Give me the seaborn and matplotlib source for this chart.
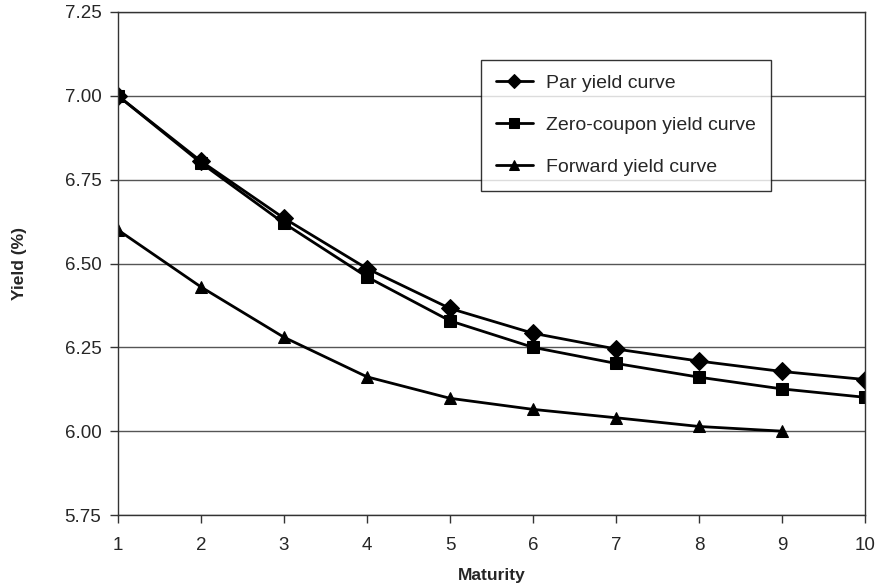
import matplotlib
matplotlib.use("Agg")
import matplotlib.pyplot as plt
import seaborn as sns
import pandas as pd

maturity = [1, 2, 3, 4, 5, 6, 7, 8, 9, 10]
par_yield = [7.00, 6.805, 6.635, 6.485, 6.366, 6.292, 6.245, 6.209, 6.178, 6.154]
zero_yield = [7.00, 6.80, 6.62, 6.46, 6.329, 6.25, 6.202, 6.161, 6.126, 6.101]
fwd_maturity = [1, 2, 3, 4, 5, 6, 7, 8, 9]
fwd_yield = [6.60, 6.43, 6.28, 6.162, 6.098, 6.065, 6.04, 6.014, 6.00]
series_names = ["Par yield curve", "Zero-coupon yield curve", "Forward yield curve"]
y_ticks = [5.75, 6.00, 6.25, 6.50, 6.75, 7.00, 7.25]

sns.set_theme(style="white")
plt.rcParams['font.family'] = ['Liberation Sans', 'DejaVu Sans']

df = pd.concat([
    pd.DataFrame({"Maturity": maturity, "Yield": par_yield, "Curve": series_names[0]}),
    pd.DataFrame({"Maturity": maturity, "Yield": zero_yield, "Curve": series_names[1]}),
    pd.DataFrame({"Maturity": fwd_maturity, "Yield": fwd_yield, "Curve": series_names[2]}),
])

fig = plt.figure(figsize=(8.77, 5.86), dpi=100)
ax = fig.add_axes([118/877, 1 - 515/586, (865-118)/877, (515-12)/586])

sns.lineplot(data=df, x="Maturity", y="Yield", hue="Curve", style="Curve",
             palette=["black"]*3, markers=["D", "s", "^"], dashes=False,
             markersize=9, linewidth=2, markeredgecolor="black", ax=ax)

ax.set_xlim(1, 10)
ax.set_ylim(5.75, 7.25)
ax.set_xticks(maturity)
ax.set_yticks(y_ticks)
ax.set_yticklabels([f"{v:.2f}" for v in y_ticks])
ax.yaxis.grid(True, color="#555555", linewidth=1)
ax.xaxis.grid(False)
for s in ax.spines.values():
    s.set_color("#333333")
    s.set_linewidth(1)
ax.tick_params(axis="both", direction="out", length=6, width=1, color="#333333",
               labelsize=13.5, bottom=True, left=True)
ax.tick_params(axis="x", pad=10)
ax.tick_params(axis="y", pad=6)
ax.set_xlabel("Maturity", fontsize=12.5, fontweight="bold", labelpad=10)
ax.set_ylabel("Yield (%)", fontsize=12.5, fontweight="bold", labelpad=27)

leg = ax.legend(loc="upper left", bbox_to_anchor=((481-118)/747, 1 - (60-12)/503),
                borderaxespad=0, frameon=True, fontsize=14, fancybox=False,
                handlelength=1.9, borderpad=0.75, labelspacing=1.25,
                handletextpad=0.7, markerscale=0.75)
leg.get_frame().set_edgecolor("black")
leg.get_frame().set_linewidth(1)
leg.set_title(None)

fig.savefig("out.png", dpi=100)
